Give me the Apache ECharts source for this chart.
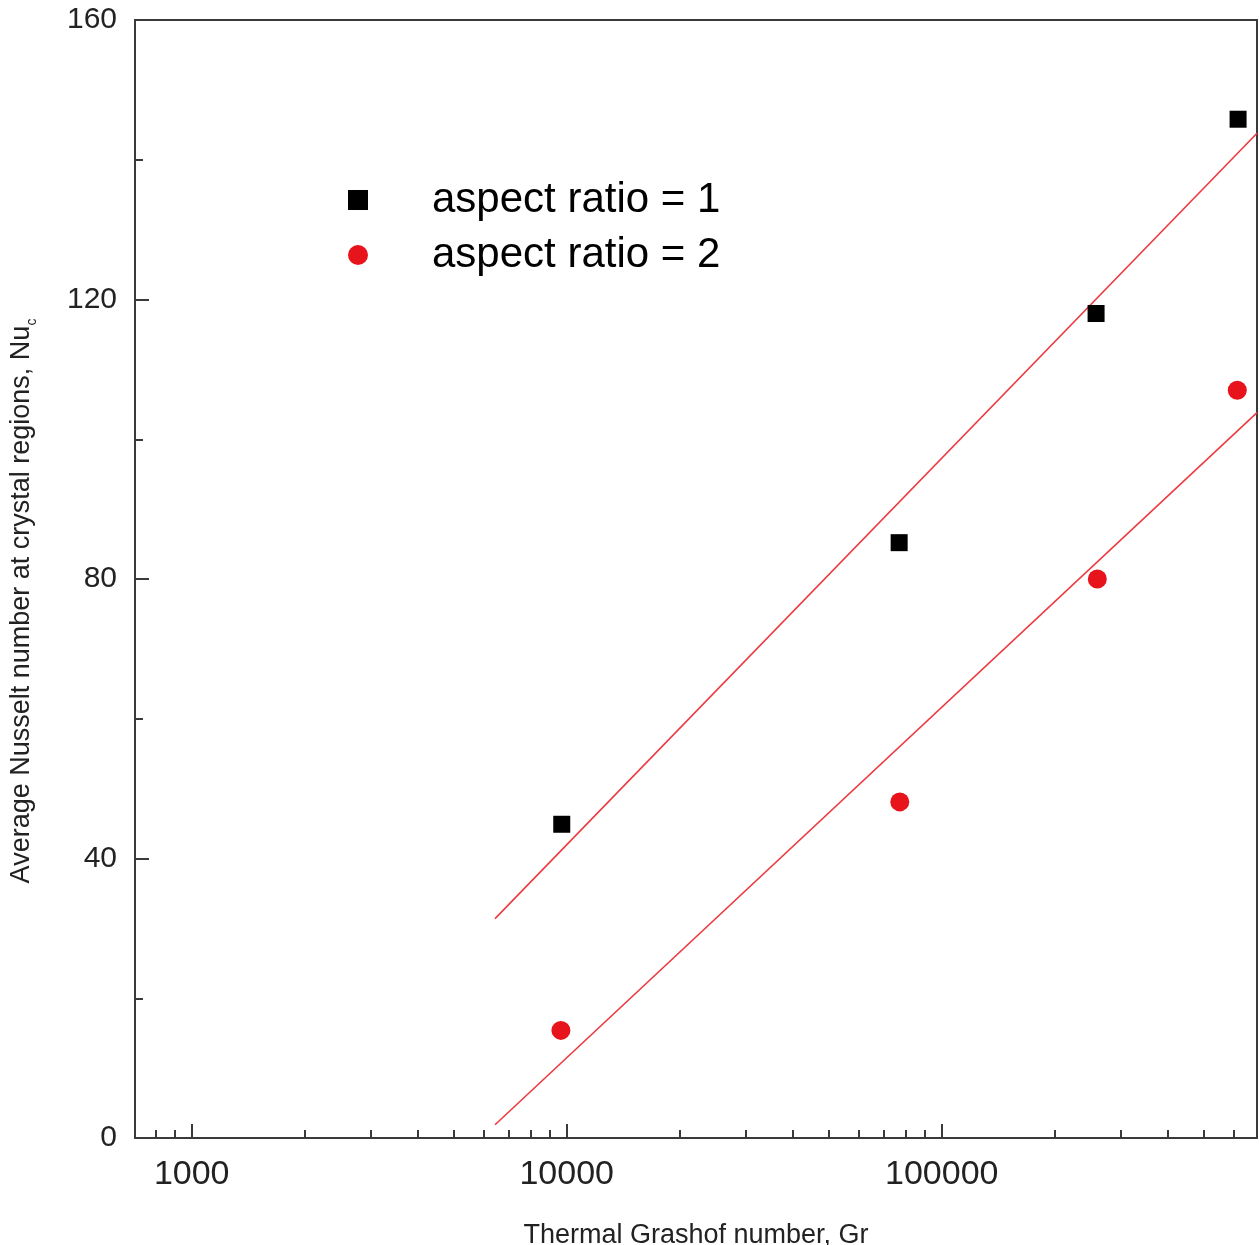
<!DOCTYPE html>
<html>
<head>
<meta charset="utf-8">
<script src="https://cdn.jsdelivr.net/npm/echarts@6/dist/echarts.min.js"></script>
<style>
html,body{margin:0;padding:0;background:#fff;}
#chart{width:1260px;height:1245px;}
</style>
</head>
<body>
<div id="chart"></div>
<script>
// ---- data ----
const grRatio1 = [9700, 77000, 258000, 617000];
const nuRatio1 = [44.9, 85.2, 118.0, 145.8];
const grRatio2 = [9650, 77300, 260000, 614000];
const nuRatio2 = [15.4, 48.1, 80.0, 107.0];
// fitted lines (end points)
const fit1Gr = [6440, 693000];
const fit1Nu = [31.4, 143.8];
const fit2Gr = [6440, 693000];
const fit2Nu = [1.9, 103.8];
// axis
const xMin = 706, xMax = 693000;
const xMajorTicks = [1000, 10000, 100000];
const xMinorTicks = [800, 900, 2000, 3000, 4000, 5000, 6000, 7000, 8000, 9000,
  20000, 30000, 40000, 50000, 60000, 70000, 80000, 90000,
  200000, 300000, 400000, 500000, 600000];
const yMin = 0, yMax = 160, yStep = 40;
const seriesNames = ['aspect ratio = 1', 'aspect ratio = 2'];

const zip = (a, b) => a.map((v, i) => [v, b[i]]);
const FONT = 'Liberation Sans, Arial, sans-serif';
const chart = echarts.init(document.getElementById('chart'));
chart.setOption({
  backgroundColor: '#fff',
  animation: false,
  grid: {left: 135, right: 3, top: 20, bottom: 107, outerBoundsMode: 'none', containLabel: false,
    show: true, borderColor: '#3a3a3a', borderWidth: 2, backgroundColor: 'transparent'},
  legend: {
    orient: 'vertical', left: 343, top: 174, itemWidth: 20, itemHeight: 20, itemGap: 13,
    data: seriesNames,
    textStyle: {fontFamily: FONT, fontSize: 42, color: '#000', lineHeight: 40, padding: [0, 0, 0, 59]}
  },
  xAxis: [{
    type: 'log', min: xMin, max: xMax, logBase: 10,
    name: 'Thermal Grashof number, Gr', nameLocation: 'middle', nameGap: 84,
    nameTextStyle: {fontFamily: FONT, fontSize: 27, color: '#222'},
    axisLine: {show: true, lineStyle: {color: '#3a3a3a', width: 2}},
    axisTick: {show: true, inside: true, length: 14, lineStyle: {color: '#3a3a3a', width: 2}, customValues: xMajorTicks},
    axisLabel: {fontFamily: FONT, fontSize: 34, color: '#222', margin: 20, customValues: xMajorTicks, formatter: v => String(Math.round(v))},
    splitLine: {show: false}, minorTick: {show: false}
  }, {
    type: 'log', min: xMin, max: xMax, logBase: 10, position: 'bottom',
    axisLine: {show: false},
    axisTick: {show: true, inside: true, length: 8, lineStyle: {color: '#3a3a3a', width: 2}, customValues: xMinorTicks},
    axisLabel: {show: false},
    splitLine: {show: false}
  }],
  yAxis: {
    type: 'value', min: yMin, max: yMax, interval: yStep,
    name: '{m|Average Nusselt number at crystal regions, Nu}{s|c}', nameLocation: 'middle', nameGap: 100,
    nameTextStyle: {fontFamily: FONT, fontSize: 27, color: '#222', padding: [0, 44, 0, 0],
      rich: {m: {fontFamily: FONT, fontSize: 27, color: '#222'}, s: {fontFamily: FONT, fontSize: 14, color: '#222', verticalAlign: 'bottom', padding: [0, 0, -4, 0]}}},
    axisLine: {show: true, lineStyle: {color: '#3a3a3a', width: 2}},
    axisTick: {show: true, inside: true, length: 14, lineStyle: {color: '#3a3a3a', width: 2}},
    minorTick: {show: true, splitNumber: 2, length: 8, lineStyle: {color: '#3a3a3a', width: 2}},
    axisLabel: {fontFamily: FONT, fontSize: 30, color: '#222', margin: 18},
    splitLine: {show: false}
  },
  series: [{
    name: seriesNames[0], type: 'scatter', symbol: 'rect', symbolSize: 17,
    itemStyle: {color: '#000', opacity: 1}, data: zip(grRatio1, nuRatio1), z: 5
  }, {
    name: seriesNames[1], type: 'scatter', symbol: 'circle', symbolSize: 19,
    itemStyle: {color: '#e8141c', opacity: 1}, data: zip(grRatio2, nuRatio2), z: 5
  }, {
    name: 'fit1', type: 'line', data: zip(fit1Gr, fit1Nu), symbol: 'none',
    lineStyle: {color: '#ec3a40', width: 1.6}, z: 3
  }, {
    name: 'fit2', type: 'line', data: zip(fit2Gr, fit2Nu), symbol: 'none',
    lineStyle: {color: '#ec3a40', width: 1.6}, z: 3
  }]
});
</script>
</body>
</html>
